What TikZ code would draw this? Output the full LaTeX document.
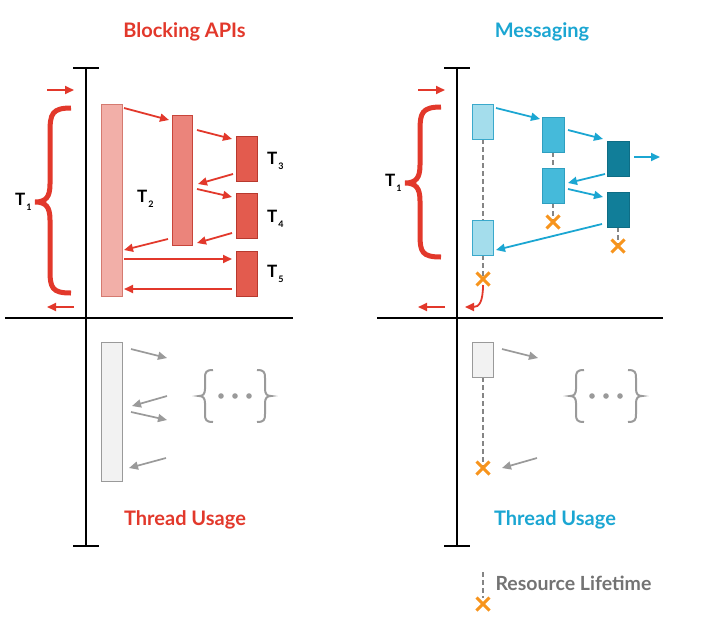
\documentclass[tikz,border=0pt]{standalone}
\usepackage{fontspec}
\setmainfont{Lato}
\usetikzlibrary{arrows.meta}
\definecolor{cred}{HTML}{E2382B}
\definecolor{cblue}{HTML}{1BA6D2}
\definecolor{pinkA}{HTML}{F2AFA8}
\definecolor{pinkAd}{HTML}{D57A70}
\definecolor{pinkB}{HTML}{EB847B}
\definecolor{pinkBd}{HTML}{C8453A}
\definecolor{pinkC}{HTML}{E35B4E}
\definecolor{pinkCd}{HTML}{B8392E}
\definecolor{blueA}{HTML}{A4DDEC}
\definecolor{blueAd}{HTML}{3AA9CC}
\definecolor{blueB}{HTML}{45BADA}
\definecolor{blueBd}{HTML}{2E9FC0}
\definecolor{blueC}{HTML}{117E99}
\definecolor{blueCd}{HTML}{0E6D85}
\definecolor{cgray}{HTML}{9A9A9A}
\definecolor{dgray}{HTML}{858585}
\definecolor{corange}{HTML}{F7941D}
\definecolor{ltext}{HTML}{737373}
\tikzset{
  box/.style={draw, line width=1pt, inner sep=0pt, minimum width=21pt},
  axis/.style={line width=2pt, black},
  rarrow/.style={line width=1.8pt, cred, -{Triangle[length=9pt,width=8pt]}},
  barrow/.style={line width=1.8pt, cblue, -{Triangle[length=9pt,width=8pt]}},
  garrow/.style={line width=1.7pt, cgray, -{Triangle[length=9pt,width=8pt]}},
  bigbrace/.style={line width=5pt, cred, line cap=butt},
  smallbrace/.style={line width=2pt, cgray},
  life/.style={line width=2pt, dgray, dash pattern=on 5pt off 3pt},
  title/.style={font=\fontsize{20}{22}\selectfont\bfseries},
  tlab/.style={font=\fontsize{17}{18}\selectfont\bfseries, inner sep=0pt},
  cross/.style={line width=3pt, corange}
}
\newcommand{\xcross}[2]{\draw[cross] (#1-6.5,#2-6.5) -- (#1+6.5,#2+6.5) (#1-6.5,#2+6.5) -- (#1+6.5,#2-6.5);}
\newcommand{\tsub}[1]{T\kern1pt\raisebox{-5pt}{\fontsize{9}{9}\selectfont #1}}
\begin{document}
\begin{tikzpicture}[x=1pt,y=-1pt]
\useasboundingbox (0,0) rectangle (722,635);
% titles
\node[title, text=cred] (tl) at (184.5,32) {Blocking APIs};
\node[title, text=cblue] (tr) at (542,32) {Messaging};
\node[title, text=cred] (bl) at (185,520) {Thread Usage};
\node[title, text=cblue] (br) at (555,520) {Thread Usage};
% axes left
\draw[axis] (86,68) -- (86,546);
\draw[axis] (73,68) -- (99,68);
\draw[axis] (73,546) -- (99,546);
\draw[axis] (5,318) -- (293,318);
% axes right
\draw[axis] (457,68) -- (457,546);
\draw[axis] (444,68) -- (470,68);
\draw[axis] (444,546) -- (470,546);
\draw[axis] (377,318) -- (663,318);
% enter/exit arrows
\coordinate (lin0) at (47,90); \coordinate (lin1) at (74,90);
\coordinate (lout0) at (74,307); \coordinate (lout1) at (47,307);
\draw[rarrow] (lin0) -- (lin1);
\draw[rarrow] (lout0) -- (lout1);
\coordinate (rin0) at (418,90); \coordinate (rin1) at (445,90);
\coordinate (rout0) at (445,307); \coordinate (rout1) at (418,307);
\draw[rarrow] (rin0) -- (rin1);
\draw[rarrow] (rout0) -- (rout1);
% braces
\draw[bigbrace] (71,108) .. controls (52,108) and (50,114) .. (50,132) -- (50,184)
  .. controls (50,197) and (46,202) .. (35,202)
  .. controls (46,202) and (50,207) .. (50,220) -- (50,270)
  .. controls (50,288) and (52,293) .. (71,293);
\draw[bigbrace] (441,107) .. controls (422,107) and (420,113) .. (420,130) -- (420,165)
  .. controls (420,178) and (416,183) .. (405,183)
  .. controls (416,183) and (420,188) .. (420,201) -- (420,235)
  .. controls (420,252) and (422,257) .. (441,257);
\node[tlab, anchor=base west] (t1l) at (15,205) {\tsub{1}};
\node[tlab, anchor=base west] (t1r) at (385,186) {\tsub{1}};
% left boxes
\node[box, fill=pinkA, draw=pinkAd, minimum height=192pt] (T1) at (111.5,200) {};
\node[box, fill=pinkB, draw=pinkBd, minimum width=20pt, minimum height=130pt] (T2) at (182,180) {};
\node[box, fill=pinkC, draw=pinkCd, minimum height=45pt] (T3) at (246.5,158.5) {};
\node[box, fill=pinkC, draw=pinkCd, minimum height=45pt] (T4) at (246.5,215.5) {};
\node[box, fill=pinkC, draw=pinkCd, minimum height=45pt] (T5) at (246.5,273.5) {};
\node[tlab, anchor=base west] (t2l) at (137,202) {\tsub{2}};
\node[tlab, anchor=base west] (t3l) at (267,164) {\tsub{3}};
\node[tlab, anchor=base west] (t4l) at (267,222) {\tsub{4}};
\node[tlab, anchor=base west] (t5l) at (267,277) {\tsub{5}};
\draw[rarrow] (124,108) -- (169,120);
\draw[rarrow] (197,130) -- (232,139);
\draw[rarrow] (233,174) -- (198,184);
\draw[rarrow] (197,189) -- (232,197);
\draw[rarrow] (232,233) -- (197,243);
\draw[rarrow] (168,239) -- (124,250);
\draw[rarrow] (124,259) -- (232,259);
\draw[rarrow] (232,289) -- (124,289);
% right boxes
\draw[life] (483,139) -- (483,220);
\draw[life] (483,255) -- (483,279);
\draw[life] (553,152) -- (553,168);
\draw[life] (553,203) -- (553,222);
\draw[life] (618,227) -- (618,246);
\node[box, fill=blueA, draw=blueAd, minimum height=35pt] (A1) at (482.5,121.5) {};
\node[box, fill=blueA, draw=blueAd, minimum height=35pt] (A2) at (482.5,237.5) {};
\node[box, fill=blueB, draw=blueBd, minimum width=22pt, minimum height=35pt] (B1) at (553,134.5) {};
\node[box, fill=blueB, draw=blueBd, minimum width=22pt, minimum height=35pt] (B2) at (553,185.5) {};
\node[box, fill=blueC, draw=blueCd, minimum width=22pt, minimum height=35pt] (C1) at (618,158.5) {};
\node[box, fill=blueC, draw=blueCd, minimum width=22pt, minimum height=35pt] (C2) at (618,209.5) {};
\draw[barrow] (496,108) -- (540,119);
\draw[barrow] (568,130) -- (603,139);
\draw[barrow] (605,174) -- (568,183);
\draw[barrow] (568,189) -- (603,197);
\draw[barrow] (602,224) -- (496,250);
\draw[barrow] (634,157) -- (660,157);
\draw[line width=1.8pt, cred, -{Triangle[length=9pt,width=8pt]}] (483,285) .. controls (483,302) and (479,307) .. (465,307);
\xcross{483}{279}
\xcross{553}{222}
\xcross{618}{246}
% bottom left
\node[box, fill=black!5, draw=cgray, minimum height=139pt] (G1) at (111.5,411.5) {};
\draw[garrow] (131,349) -- (167,358);
\draw[garrow] (167,396) -- (132,406);
\draw[garrow] (131,412) -- (167,420);
\draw[garrow] (166,458) -- (129,468);
\draw[smallbrace] (213,370) .. controls (206,370) and (205,372) .. (205,378) -- (205,389)
  .. controls (205,394) and (203,396) .. (199,396)
  .. controls (203,396) and (205,398) .. (205,403) -- (205,414)
  .. controls (205,420) and (206,422) .. (213,422);
\draw[smallbrace] (257,370) .. controls (264,370) and (265,372) .. (265,378) -- (265,389)
  .. controls (265,394) and (267,396) .. (271,396)
  .. controls (267,396) and (265,398) .. (265,403) -- (265,414)
  .. controls (265,420) and (264,422) .. (257,422);
\fill[cgray] (221,396) circle (2.8) (235,396) circle (2.8) (249,396) circle (2.8);
% bottom right
\draw[life] (483,377) -- (483,468);
\node[box, fill=black!5, draw=cgray, minimum height=35pt] (G2) at (482.5,359.5) {};
\draw[garrow] (502,349) -- (538,358);
\draw[garrow] (537,458) -- (502,468);
\xcross{483}{468}
\draw[smallbrace] (584,370) .. controls (577,370) and (576,372) .. (576,378) -- (576,389)
  .. controls (576,394) and (574,396) .. (570,396)
  .. controls (574,396) and (576,398) .. (576,403) -- (576,414)
  .. controls (576,420) and (577,422) .. (584,422);
\draw[smallbrace] (628,370) .. controls (635,370) and (636,372) .. (636,378) -- (636,389)
  .. controls (636,394) and (638,396) .. (642,396)
  .. controls (638,396) and (636,398) .. (636,403) -- (636,414)
  .. controls (636,420) and (635,422) .. (628,422);
\fill[cgray] (592,396) circle (2.8) (606,396) circle (2.8) (620,396) circle (2.8);
% legend
\draw[life] (483,572) -- (483,598);
\xcross{483}{604}
\node[anchor=west, text=ltext, font=\fontsize{19.5}{21}\selectfont\bfseries] (leg) at (492,583) {Resource Lifetime};
\end{tikzpicture}
\end{document}
